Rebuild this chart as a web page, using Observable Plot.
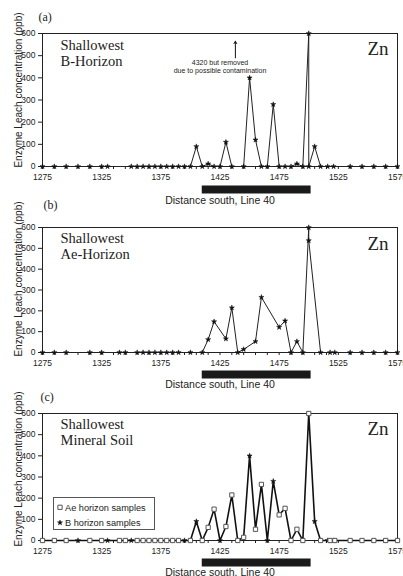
<!DOCTYPE html>
<html><head><meta charset="utf-8">
<script src="https://cdn.jsdelivr.net/npm/d3@7"></script>
<script src="https://cdn.jsdelivr.net/npm/@observablehq/plot@0.6"></script>
<style>
body{margin:0;background:#fff;}
#wrap{position:relative;width:403px;height:576px;overflow:hidden;}
#wrap svg.plotpanel{position:absolute;left:0;}
</style>
</head><body><div id="wrap"></div>
<script>
// ---- data ----
// B-horizon samples (panel a); value at 1500 was 4320, drawn capped at 600
const bDist = [1275,1285,1295,1305,1315,1325,1330,1350,1355,1360,1365,1370,1375,1380,1385,1390,1395,1400,1405,1410,1415,1420,1425,1430,1435,1445,1450,1455,1460,1465,1470,1475,1480,1485,1490,1495,1500,1500,1505,1510,1516,1521,1535,1545,1555,1565,1575];
const bZn   = [0,0,0,0,0,0,0,0,0,0,0,0,0,0,0,0,0,0,90,0,12,0,0,110,0,0,400,120,0,0,280,0,0,0,12,0,600,0,90,0,0,0,0,0,0,0,0];
// Ae-horizon samples (panel b)
const aeDist = [1275,1285,1295,1315,1325,1340,1345,1355,1360,1365,1370,1375,1380,1385,1390,1400,1410,1415,1420,1430,1435,1440,1445,1455,1460,1475,1480,1485,1490,1495,1500,1500,1510,1518,1522,1535,1545,1555,1565,1575];
const aeZn   = [0,0,0,0,0,0,0,0,0,0,0,0,0,0,0,0,0,62,148,66,215,0,15,53,265,121,152,0,53,0,600,537,0,0,0,0,0,0,0,0];
const zone = [{start: 1410, end: 1502}];
const xTicks = d3.range(1275, 1576, 10);
const xLabels = [1275, 1325, 1375, 1425, 1475, 1525, 1575];
const yTicks = [0, 100, 200, 300, 400, 500, 600];
const panelLabels = ["(a)", "(b)", "(c)"];
const panelTitles = ["Shallowest\nB-Horizon", "Shallowest\nAe-Horizon", "Shallowest\nMineral Soil"];
const elementName = "Zn";
const xTitle = "Distance south, Line 40";
const yTitle = "Enzyme Leach concentration (ppb)";
const note = "4320 but removed\ndue to possible contamination";
const legendLabels = ["Ae horizon samples", "B horizon samples"];

// ---- derived tables ----
const bData = bDist.map((x, i) => ({x, y: bZn[i]}));
const aeData = aeDist.map((x, i) => ({x, y: aeZn[i]}));
const positions = Array.from(new Set([...bDist, ...aeDist])).sort((a, b) => a - b);
const mineral = positions.map(x => {
  const i = aeDist.indexOf(x);
  return i >= 0 ? {x, y: aeZn[i], type: "Ae"} : {x, y: bZn[bDist.indexOf(x)], type: "B"};
});

const SANS = "'Liberation Sans', Arial, sans-serif";
const SERIF = "'Liberation Serif', 'Times New Roman', serif";
const wrap = document.getElementById("wrap");

function panel(cfg) {
  const marks = [
    Plot.frame({stroke: "#222"}),
    Plot.text([yTitle], {frameAnchor: "left", rotate: -90, dx: -21, dy: cfg.yTitleDy, lineAnchor: "bottom", textAnchor: "middle", fontSize: 10, fontFamily: SANS}),
    Plot.text([cfg.label], {frameAnchor: "top-left", textAnchor: "start", lineAnchor: "bottom", dx: cfg.labelDx, dy: cfg.labelDy, fontSize: 12, fontFamily: SERIF}),
    Plot.text([cfg.title], {frameAnchor: "top-left", textAnchor: "start", lineAnchor: "top", dx: 18, dy: cfg.titleDy, fontSize: 14.5, lineHeight: 1.1, fontFamily: SERIF}),
    Plot.text([elementName], {frameAnchor: "top-right", textAnchor: "end", lineAnchor: "top", dx: -9, dy: cfg.znDy, fontSize: 19, fontFamily: SERIF}),
    Plot.ruleY(zone, {y: () => 0, x1: "start", x2: "end", stroke: "#1a1a1a", strokeWidth: 8, dy: cfg.barDy}),
    Plot.text([xTitle], {frameAnchor: "bottom", lineAnchor: "bottom", dy: cfg.xTitleDy, fontSize: 10.5, fontFamily: SANS}),
    ...cfg.marks
  ];
  const svg = Plot.plot({
    width: 403,
    height: cfg.height,
    marginTop: cfg.mt,
    marginBottom: cfg.mb,
    marginLeft: 42,
    marginRight: 6,
    style: {background: "transparent", fontFamily: SANS, fontSize: "8.5px", color: "#222"},
    x: {domain: [1275, 1575], ticks: xTicks, tickSize: 3, tickPadding: 4, tickFormat: d => xLabels.includes(d) ? String(d) : "", label: null},
    y: {domain: [0, 600], ticks: yTicks, tickSize: 4, tickPadding: 3, label: null},
    marks
  });
  svg.classList.add("plotpanel");
  svg.style.top = cfg.top + "px";
  wrap.appendChild(svg);
}

// (a) B horizon
panel({
  top: 0, height: 211, mt: 33, mb: 45, label: panelLabels[0], labelDx: -4, labelDy: -13,
  title: panelTitles[0], titleDy: 5.5, znDy: 7.5, barDy: 23, xTitleDy: 37, yTitleDy: -10,
  marks: [
    Plot.line(bData, {x: "x", y: "y", stroke: "#222", strokeWidth: 1}),
    Plot.dot(bData, {x: "x", y: "y", symbol: "star", r: 1.6, fill: "#111", stroke: "#111", strokeWidth: 0.5}),
    Plot.arrow([{x: 1438, y1: 490, y2: 565}], {x1: "x", x2: "x", y1: "y1", y2: "y2", headLength: 4, strokeWidth: 1, stroke: "#111"}),
    Plot.text([{x: 1425, y: 451, t: note}], {x: "x", y: "y", text: "t", fontSize: 7, lineHeight: 1.2, fontFamily: SANS})
  ]
});

// (b) Ae horizon
panel({
  top: 190, height: 202, mt: 37, mb: 40, label: panelLabels[1], labelDx: 1, labelDy: -19,
  title: panelTitles[1], titleDy: 4, znDy: 8.5, barDy: 22, xTitleDy: 35, yTitleDy: -11,
  marks: [
    Plot.line(aeData, {x: "x", y: "y", stroke: "#222", strokeWidth: 1}),
    Plot.dot(aeData, {x: "x", y: "y", symbol: "star", r: 1.6, fill: "#111", stroke: "#111", strokeWidth: 0.5})
  ]
});

// (c) combined shallowest mineral soil
panel({
  top: 380, height: 200, mt: 33, mb: 40, label: panelLabels[2], labelDx: -2, labelDy: -13,
  title: panelTitles[2], titleDy: 4.5, znDy: 7.5, barDy: 22, xTitleDy: 35, yTitleDy: -8,
  marks: [
    Plot.line(mineral, {x: "x", y: "y", stroke: "#111", strokeWidth: 1.6}),
    Plot.dot(mineral.filter(d => d.type === "B"), {x: "x", y: "y", symbol: "star", r: 1.6, fill: "#111", stroke: "#111", strokeWidth: 0.5}),
    Plot.dot(mineral.filter(d => d.type === "Ae"), {x: "x", y: "y", symbol: "square", r: 2.4, fill: "white", stroke: "#555", strokeWidth: 1})
  ]
});

// legend for (c)
const NS = "http://www.w3.org/2000/svg";
const leg = d3.create("svg").attr("width", 104).attr("height", 35)
  .style("position", "absolute").style("left", "52px").style("top", "496px");
leg.append("rect").attr("x", 1.5).attr("y", 1.5).attr("width", 101).attr("height", 32)
  .attr("fill", "white").attr("stroke", "#555").attr("stroke-width", 1);
leg.append("path").attr("transform", "translate(8,11.3)").attr("d", d3.symbol(d3.symbolSquare, Math.PI * 2.4 * 2.4)())
  .attr("fill", "white").attr("stroke", "#555");
leg.append("path").attr("transform", "translate(8,26.7)").attr("d", d3.symbol(d3.symbolStar, Math.PI * 1.6 * 1.6)())
  .attr("fill", "#111").attr("stroke", "#111").attr("stroke-width", 0.5);
leg.selectAll("text.l").data(legendLabels).join("text")
  .attr("x", 13).attr("y", (d, i) => 14.5 + i * 15.3)
  .attr("font-family", SANS).attr("font-size", 9.2).attr("fill", "#222")
  .text(d => d);
wrap.appendChild(leg.node());
</script>
</body></html>
